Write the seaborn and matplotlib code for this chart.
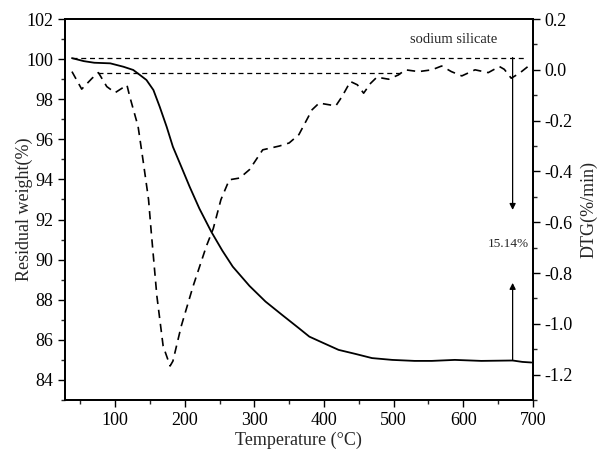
import numpy as np
import pandas as pd
import matplotlib
matplotlib.use("Agg")
import matplotlib.pyplot as plt
from matplotlib.ticker import MultipleLocator
import seaborn as sns

# --- data ---
tg_temp = [38, 55, 70, 93, 112, 126, 136, 145, 155, 164, 174, 183, 195, 207, 221,
           238, 254, 269, 293, 316, 340, 364, 379, 398, 421, 445, 469, 498, 530,
           555, 588, 626, 671, 685, 698]
tg_weight = [100.05, 99.9, 99.82, 99.79, 99.62, 99.46, 99.2, 98.96, 98.46, 97.63,
             96.63, 95.63, 94.64, 93.64, 92.55, 91.4, 90.45, 89.65, 88.69, 87.91,
             87.24, 86.58, 86.16, 85.86, 85.5, 85.3, 85.09, 85.0, 84.95, 84.95,
             85.0, 84.95, 84.97, 84.9, 84.87]

dtg_temp = [38, 52, 67, 76, 88, 100, 117, 121, 133, 140, 148, 152, 160, 169, 179,
            183, 195, 212, 231, 241, 252, 264, 279, 293, 312, 336, 350, 364, 383,
            393, 417, 426, 438, 448, 457, 467, 476, 493, 507, 517, 536, 555, 569,
            583, 598, 617, 636, 652, 659, 669, 681, 693]
dtg_rate = [-0.007, -0.076, -0.033, -0.011, -0.066, -0.09, -0.06, -0.105, -0.223,
            -0.354, -0.51, -0.642, -0.891, -1.088, -1.166, -1.147, -1.009, -0.852,
            -0.695, -0.625, -0.511, -0.433, -0.426, -0.393, -0.315, -0.30, -0.288,
            -0.255, -0.157, -0.131, -0.142, -0.105, -0.046, -0.059, -0.092, -0.053,
            -0.029, -0.037, -0.02, 0.0, -0.007, 0.0, 0.015, -0.007, -0.024, 0.0,
            -0.011, 0.013, 0.002, -0.033, -0.013, 0.013]

ref_upper = 100.08   # initial weight level
ref_lower = 99.32    # DTG baseline level (on weight axis)
mass_loss_label = "15.14%"

tg = pd.DataFrame({"Temperature": tg_temp, "Weight": tg_weight})
dtg = pd.DataFrame({"Temperature": dtg_temp, "DTG": dtg_rate})

sns.set_style("ticks")
plt.rcParams["font.family"] = ["Liberation Serif", "DejaVu Serif"]

fig = plt.figure(figsize=(5.99, 4.53), dpi=100)
ax = fig.add_axes([0.1085, 0.117, 0.781, 0.841])
ax2 = ax.twinx()

sns.lineplot(data=tg, x="Temperature", y="Weight", ax=ax, color="black", lw=1.3)
sns.lineplot(data=dtg, x="Temperature", y="DTG", ax=ax2, color="black", lw=1.2,
             linestyle=(0, (5, 3.5)))

# reference lines
ax.plot([38, 692], [ref_upper, ref_upper], color="black", lw=0.9, linestyle=(0, (4, 3)))
ax.plot([76, 510], [ref_lower, ref_lower], color="black", lw=0.9, linestyle=(0, (4, 3)))

# mass loss arrows
ax.annotate("", xy=(671, 92.48), xytext=(671, ref_upper),
            arrowprops=dict(arrowstyle="-|>", color="black", lw=0.9, mutation_scale=9,
                            shrinkA=0, shrinkB=0))
ax.annotate("", xy=(671, 88.84), xytext=(671, 84.97),
            arrowprops=dict(arrowstyle="-|>", color="black", lw=0.9, mutation_scale=9,
                            shrinkA=0, shrinkB=0))
ax.text(695, 90.78, mass_loss_label, ha="right", va="center", fontsize=9.5)
ax.text(586, 101.0, "sodium silicate", ha="center", va="center", fontsize=10.5)

ax.set_xlim(28, 700)
ax.set_ylim(83, 102)
ax2.set_ylim(-1.3, 0.2)

ax.xaxis.set_major_locator(MultipleLocator(100))
ax.xaxis.set_minor_locator(MultipleLocator(50))
ax.yaxis.set_major_locator(MultipleLocator(2))
ax.yaxis.set_minor_locator(MultipleLocator(1))
ax2.yaxis.set_major_locator(MultipleLocator(0.2))
ax2.yaxis.set_minor_locator(MultipleLocator(0.1))
ax2.yaxis.set_major_formatter(plt.FuncFormatter(lambda v, p: f"{v:.1f}"))

for a in (ax, ax2):
    a.tick_params(which="major", direction="out", length=5, width=1.0, labelsize=13,
                  colors="black")
    a.tick_params(which="minor", direction="out", length=3, width=1.0)
    for s in a.spines.values():
        s.set_linewidth(1.3)
        s.set_color("black")
ax.set_xticks([100, 200, 300, 400, 500, 600, 700])

ax.set_xlabel("Temperature (°C)", fontsize=13, labelpad=2)
ax.set_ylabel("Residual weight(%)", fontsize=13, labelpad=-5)
ax2.set_ylabel("DTG(%/min)", fontsize=13, labelpad=5)

fig.savefig("out.png", dpi=100)
